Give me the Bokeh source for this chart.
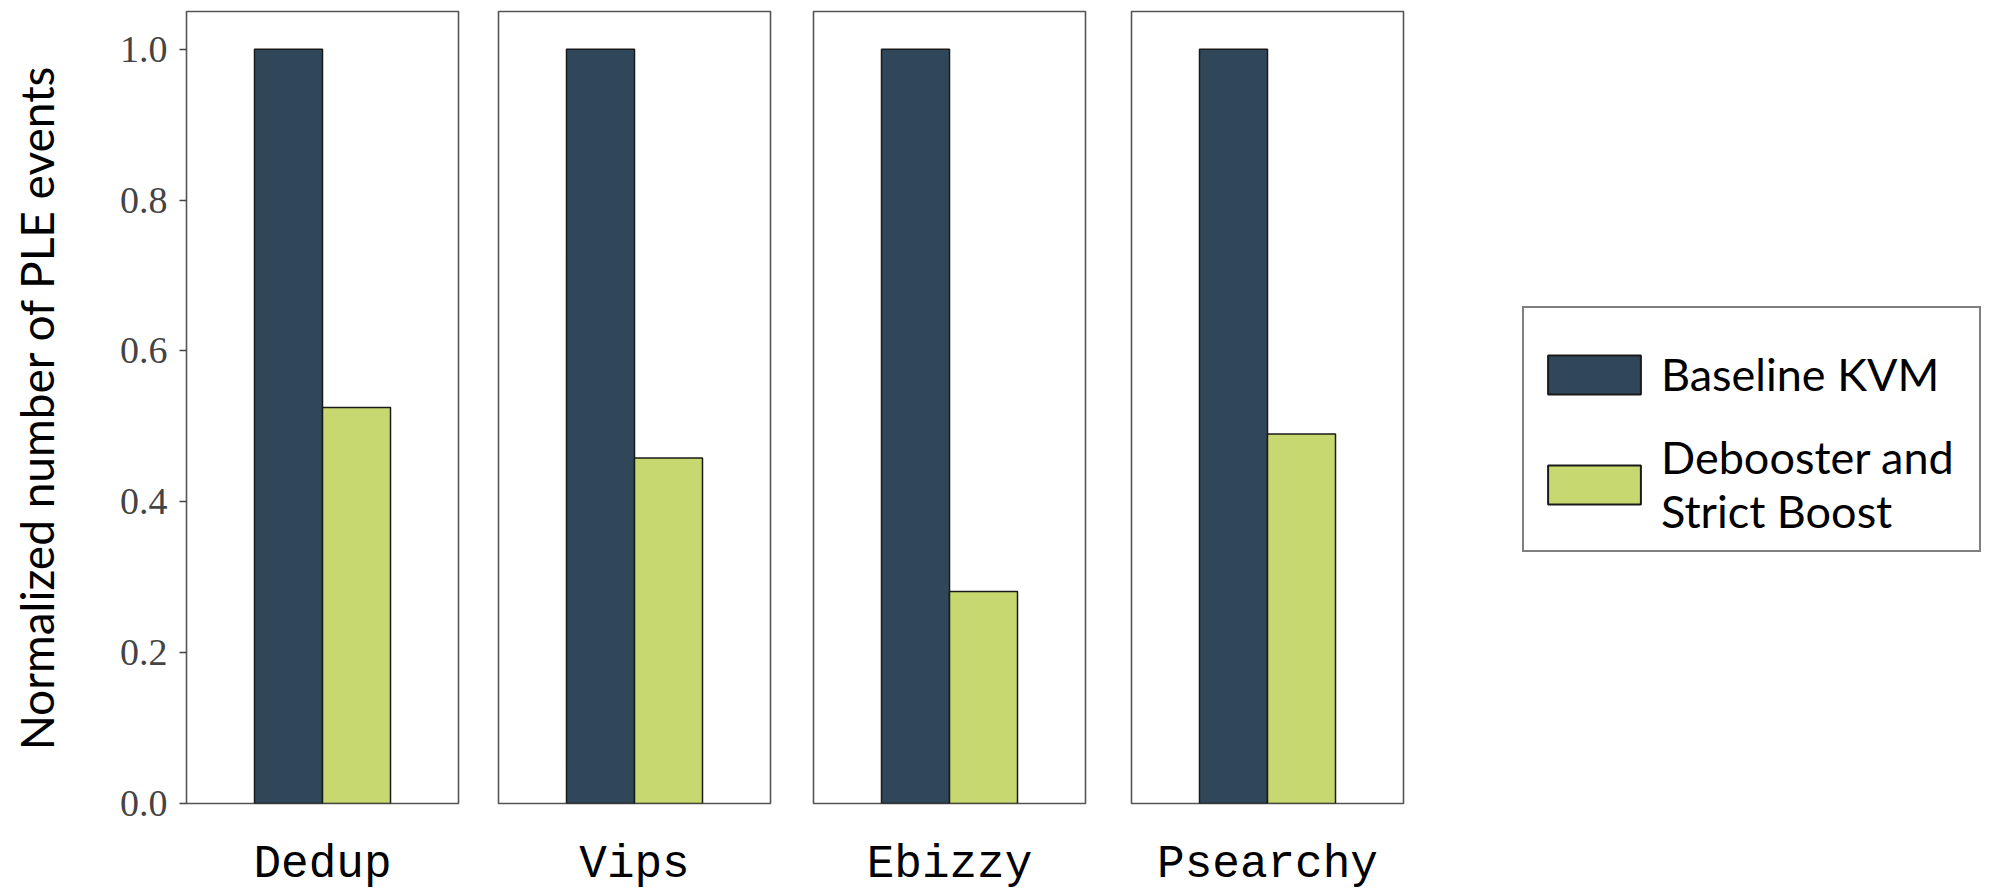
from bokeh.plotting import figure
from bokeh.models import (Range1d, LinearAxis, FixedTicker, Legend, LegendItem,
                          ColumnDataSource, PrintfTickFormatter)
from bokeh.layouts import row
from bokeh.embed import file_html
from bokeh.resources import INLINE

# ---- data ----
benchmarks = ["Dedup", "Vips", "Ebizzy", "Psearchy"]
baseline_kvm = [1.0, 1.0, 1.0, 1.0]
debooster_strict = [0.525, 0.458, 0.281, 0.490]
series_labels = ["Baseline KVM", "Debooster and\nStrict Boost"]
y_ticks = [0.0, 0.2, 0.4, 0.6, 0.8, 1.0]
y_title = "Normalized number of PLE events"

# ---- style ----
DARK = "#30475a"
GREEN = "#c6d86f"
EDGE = "#1a1a1a"
FRAME = "#555555"
SANS = "Lato"
BAR_W = 0.5
OFFSETS = [-0.25, 0.25]
H = 893
TOP = 11
BOTTOM = 89

# (width, min_border_left, min_border_right)
panel_layout = [(478, 186, 20),
                (312, 20, 20),
                (314, 23, 19),
                (316, 27, 17)]

figs = []
for i, name in enumerate(benchmarks):
    w, left, right = panel_layout[i]
    p = figure(width=w, height=H,
               x_range=Range1d(-1, 1), y_range=Range1d(0, 1.05),
               x_axis_type=None, y_axis_type=None,
               toolbar_location=None, output_backend="svg", title=None,
               min_border_left=left, min_border_right=right,
               min_border_top=TOP, min_border_bottom=BOTTOM)
    p.outline_line_color = FRAME
    p.outline_line_width = 1.6
    p.background_fill_color = "white"
    p.border_fill_color = "white"

    src = ColumnDataSource(dict(
        x=[OFFSETS[0], OFFSETS[1]],
        top=[baseline_kvm[i], debooster_strict[i]],
        color=[DARK, GREEN],
    ))
    p.vbar(x="x", top="top", bottom=0, width=BAR_W, source=src,
           fill_color="color", line_color=EDGE, line_width=1.5)

    xa = LinearAxis(ticker=FixedTicker(ticks=[0]),
                    major_label_overrides={0: name})
    xa.axis_line_color = None
    xa.major_tick_line_color = None
    xa.minor_tick_line_color = None
    xa.major_label_text_font = "Liberation Mono"
    xa.major_label_text_font_size = "46px"
    xa.major_label_text_color = "black"
    xa.major_label_standoff = 29
    p.add_layout(xa, "below")

    if i == 0:
        ya = LinearAxis(ticker=FixedTicker(ticks=y_ticks),
                        formatter=PrintfTickFormatter(format="%.1f"))
        ya.axis_line_color = None
        ya.major_tick_line_color = "#444444"
        ya.major_tick_line_width = 1.3
        ya.major_tick_out = 7
        ya.major_tick_in = 0
        ya.minor_tick_line_color = None
        ya.major_label_text_font = "Liberation Serif"
        ya.major_label_text_font_size = "38px"
        ya.major_label_text_color = "#444444"
        ya.major_label_standoff = 12
        ya.axis_label = y_title
        ya.axis_label_text_font = SANS
        ya.axis_label_text_font_style = "normal"
        ya.axis_label_text_font_size = "46px"
        ya.axis_label_text_color = "black"
        ya.axis_label_standoff = 53
        p.add_layout(ya, "left")
    figs.append(p)

# ---- legend panel ----
lg = figure(width=573, height=H,
            x_range=Range1d(0, 1), y_range=Range1d(0, 1),
            x_axis_type=None, y_axis_type=None,
            toolbar_location=None, output_backend="svg", title=None,
            min_border=0, min_border_top=TOP, min_border_bottom=BOTTOM)
lg.outline_line_color = None
lg.border_fill_color = "white"
# legend proxies (no drawable data)
nan = float("nan")
r1 = lg.vbar(x=[0.5], top=[nan], width=0.5, fill_color=DARK, line_color=EDGE, line_width=2)
r2 = lg.vbar(x=[0.5], top=[nan], width=0.5, fill_color=GREEN, line_color=EDGE, line_width=2)
legend = Legend(items=[LegendItem(label=series_labels[0], renderers=[r1]),
                       LegendItem(label=series_labels[1], renderers=[r2])],
                location=(102, 251))
legend.border_line_color = "black"
legend.border_line_width = 2
legend.background_fill_color = "white"
legend.background_fill_alpha = 1
legend.glyph_width = 116
legend.glyph_height = 49
legend.label_standoff = 9
legend.label_width = 306
legend.label_text_font = SANS
legend.label_text_font_size = "45px"
legend.label_text_color = "black"
legend.label_text_line_height = 1.25
legend.padding = 12
legend.spacing = 29
legend.margin = 0
legend.title = " "
legend.title_text_font_size = "4px"
legend.title_standoff = 22
lg.add_layout(legend, "center")

layout = row(*figs, lg)
open("out.html", "w").write(file_html(layout, INLINE))
